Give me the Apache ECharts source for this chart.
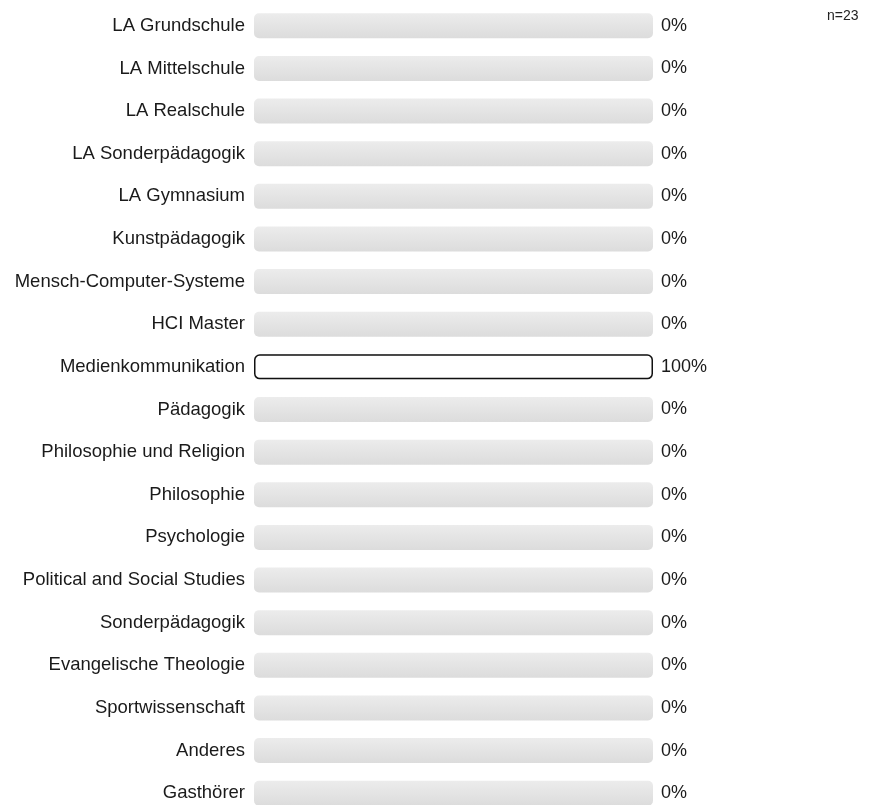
<!DOCTYPE html>
<html>
<head>
<meta charset="utf-8">
<script src="https://cdn.jsdelivr.net/npm/echarts@6/dist/echarts.min.js"></script>
<style>
  html, body { margin: 0; padding: 0; background: #fff; }
  #chart { width: 879px; height: 805px; }
</style>
</head>
<body>
<div id="chart"></div>
<script>
// Studiengänge - Antwortverteilung
var categories = [
    'LA Grundschule', 'LA Mittelschule', 'LA Realschule', 'LA Sonderpädagogik',
    'LA Gymnasium', 'Kunstpädagogik', 'Mensch-Computer-Systeme', 'HCI Master',
    'Medienkommunikation', 'Pädagogik', 'Philosophie und Religion', 'Philosophie',
    'Psychologie', 'Political and Social Studies', 'Sonderpädagogik',
    'Evangelische Theologie', 'Sportwissenschaft', 'Anderes', 'Gasthörer'
];
var percentValues = [0, 0, 0, 0, 0, 0, 0, 0, 100, 0, 0, 0, 0, 0, 0, 0, 0, 0, 0];
var sampleLabel = 'n=23';

var chart = echarts.init(document.getElementById('chart'));
var option = {
    animation: false,
    textStyle: { fontFamily: 'Liberation Sans, Arial, sans-serif' },
    graphic: [{
        type: 'text',
        left: 827,
        top: 9,
        style: {
            text: sampleLabel,
            fontSize: 14,
            fill: '#222',
            fontFamily: 'Liberation Sans, Arial, sans-serif'
        }
    }],
    grid: {
        left: 254,
        width: 399,
        top: 4.5,
        height: 810,
        outerBoundsMode: 'none'
    },
    xAxis: {
        type: 'value',
        min: 0,
        max: 100,
        show: false
    },
    yAxis: [{
        type: 'category',
        inverse: true,
        data: categories,
        axisLine: { show: false },
        axisTick: { show: false },
        axisLabel: {
            fontSize: 18.5,
            color: '#1a1a1a',
            margin: 9
        }
    }, {
        type: 'category',
        position: 'right',
        inverse: true,
        data: categories,
        axisLine: { show: false },
        axisTick: { show: false },
        axisLabel: {
            fontSize: 18,
            color: '#1a1a1a',
            margin: 8,
            formatter: function (v, i) { return percentValues[i] + '%'; }
        }
    }],
    series: [{
        type: 'bar',
        barWidth: 25,
        showBackground: true,
        backgroundStyle: {
            borderRadius: 5,
            color: new echarts.graphic.LinearGradient(0, 0, 0, 1, [
                { offset: 0, color: '#ececec' },
                { offset: 1, color: '#dcdcdc' }
            ])
        },
        data: percentValues.map(function (v) {
            return {
                value: v,
                itemStyle: v > 0
                    ? { color: '#ffffff', borderColor: '#111', borderWidth: 1.5, borderRadius: 5 }
                    : { color: 'transparent', borderWidth: 0 }
            };
        })
    }]
};
chart.setOption(option);
</script>
</body>
</html>
